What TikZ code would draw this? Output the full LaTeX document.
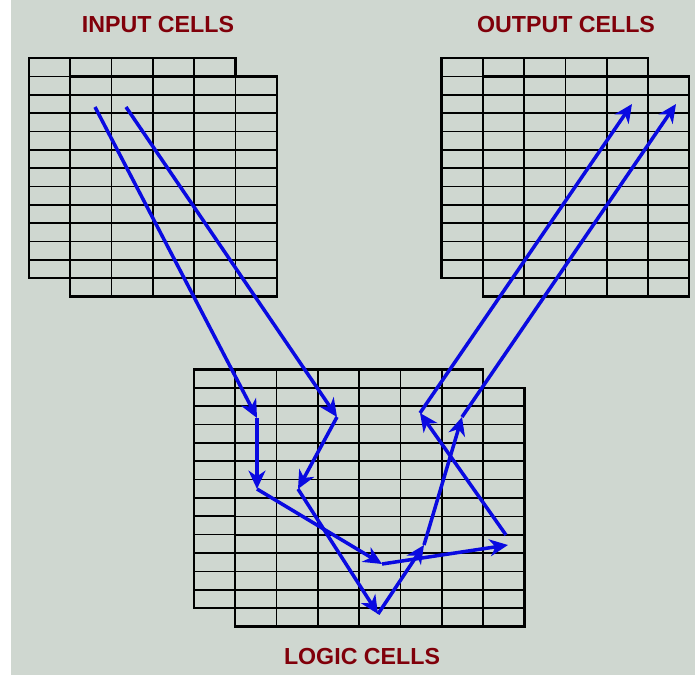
\documentclass[tikz,border=0pt]{standalone}
\usepackage{fontspec}
\setmainfont{Liberation Sans}
\usetikzlibrary{arrows.meta}

\definecolor{panel}{RGB}{207,215,208}
\definecolor{titlered}{RGB}{128,0,10}
\definecolor{flowblue}{RGB}{10,10,225}

\tikzset{
  gridline/.style={black, line width=1.2pt},
  gridframe/.style={black, line width=1.6pt},
  title/.style={text=titlered, font=\fontsize{16.5}{19}\selectfont\bfseries},
  flow/.style={flowblue, line width=2.5pt, >={Stealth[length=13pt,width=12pt,inset=4pt]}}
}

% cell block: x, y, columns, rows
\newcommand{\cellblock}[4]{%
  \fill[panel] (#1,#2) rectangle ++({#3*41.3},{#4*18.35});
  \foreach \i in {1,...,#3} \draw[gridline] ({#1+\i*41.3},#2) -- ++(0,{#4*18.35});
  \foreach \j in {1,...,#4} \draw[gridline] (#1,{#2+\j*18.35}) -- ++({#3*41.3},0);
  \draw[gridframe] (#1,#2) rectangle ++({#3*41.3},{#4*18.35});
}

\begin{document}
\begin{tikzpicture}[x=0.025cm,y=-0.025cm]
            \useasboundingbox (0,0) rectangle (695,675);
            \fill[white] (0,0) rectangle (695,675);
            \fill[panel] (11,0) rectangle (695,675);

            % titles
            \node[title] (intitle) at (158,25) {INPUT CELLS};
            \node[title] (outtitle) at (566,25) {OUTPUT CELLS};
            \node[title] (logictitle) at (362,657) {LOGIC CELLS};

            % cell blocks
            \cellblock{29}{58}{5}{12}
            \cellblock{70.3}{76.4}{5}{12}
            \cellblock{441.5}{58}{5}{12}
            \cellblock{482.8}{76.4}{5}{12}
            \cellblock{194}{369.5}{7}{13}
            \cellblock{235.3}{387.9}{7}{13}

            % route points
            \coordinate (in1) at (95,107);
            \coordinate (in2) at (126,107);
            \coordinate (p1) at (257,418);
            \coordinate (p2) at (257,489);
            \coordinate (p3) at (382,564);
            \coordinate (p4) at (508,545);
            \coordinate (p4b) at (506,535);
            \coordinate (p5) at (420,413);
            \coordinate (q1) at (337,417);
            \coordinate (q2) at (298,489);
            \coordinate (q3) at (378,614);
            \coordinate (q4) at (424,545);
            \coordinate (q5) at (462,417);
            \coordinate (out1) at (632,104);
            \coordinate (out2) at (676,104);

            \draw[flow]
            (in1) edge[->] (p1)
            (p1) edge[->] (p2)
            (p2) edge[->] (p3)
            (p3) edge[->] (p4)
            (p4b) edge[->] (p5)
            (p5) edge[->] (out1)
            (in2) edge[->] (q1)
            (q1) edge[->] (q2)
            (q2) edge[->] (q3)
            (q3) edge[->] (q4)
            (q4) edge[->] (q5)
            (q5) edge[->] (out2)
            ;
\end{tikzpicture}
\end{document}
